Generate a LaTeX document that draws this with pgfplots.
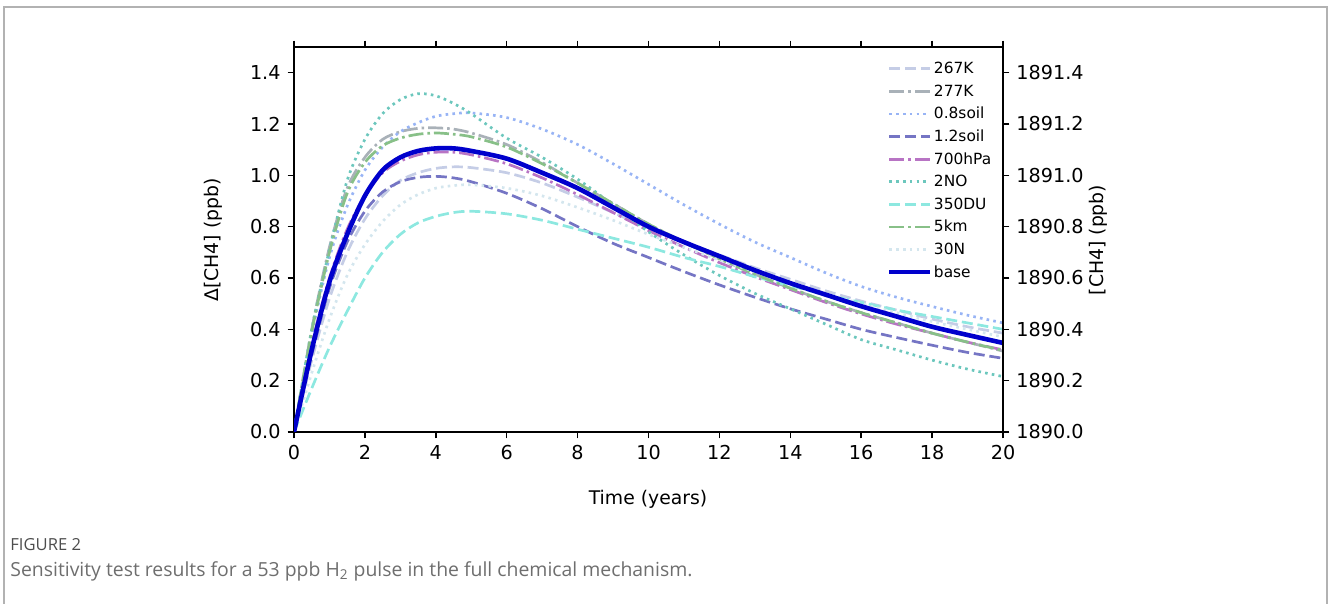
\documentclass[border=0pt]{standalone}
\usepackage{fontspec}
\setmainfont{DejaVu Sans}
\newfontfamily\capfont{Open Sans}
\usepackage{pgfplots}
\pgfplotsset{compat=1.18}

\definecolor{cK267}{HTML}{C5CDE6}
\definecolor{cK277}{HTML}{A9B1B8}
\definecolor{cSoilLo}{HTML}{98B4F5}
\definecolor{cSoilHi}{HTML}{7575C4}
\definecolor{cHpa}{HTML}{B874C4}
\definecolor{cNO}{HTML}{6CC7BD}
\definecolor{cDU}{HTML}{8DE8E0}
\definecolor{cKm}{HTML}{88C088}
\definecolor{cN}{HTML}{D4E6EE}
\definecolor{cBase}{HTML}{0000CC}
\definecolor{capgray}{HTML}{6E6E6E}

\tikzset{
  dashedA/.style={line width=1.35pt, dash pattern=on 5.5pt off 2.4pt},
  dashdotA/.style={line width=1.35pt, dash pattern=on 7.5pt off 2pt on 1.3pt off 2pt},
  dottedA/.style={line width=1.35pt, dash pattern=on 1.3pt off 2.1pt},
}
% 1 px of the 1328x604 reference = 0.5pt here

\begin{document}
\begin{tikzpicture}
\path[use as bounding box] (0pt,0pt) rectangle (664pt,302pt);
\draw[line width=0.8pt, color=black!30] (2pt,-5pt) -- (2pt,298.5pt) -- (663.5pt,298.5pt) -- (663.5pt,-5pt);

\begin{axis}[
    at={(147pt,86pt)}, anchor=south west,
    scale only axis, width=354.5pt, height=192.5pt,
    xmin=0, xmax=20, ymin=0, ymax=1.5,
    xtick={0,2,...,20}, ytick={0,0.2,...,1.4},
    xtick pos=both, ytick pos=left, tick align=outside,
    major tick length=3.2pt,
    every tick/.style={line width=0.75pt, black},
    axis line style={line width=0.75pt},
    xticklabel pos=lower,
    ticklabel style={font=\fontsize{9.6}{11}\selectfont},
    /pgf/number format/assume math mode=true,
    yticklabel style={/pgf/number format/.cd, fixed, fixed zerofill, precision=1},
    xticklabel style={/pgf/number format/.cd, fixed, precision=0},
    legend style={at={(0.836,0.972)}, anchor=north west, draw=none, fill=none,
        font=\fontsize{7.7}{9}\selectfont, row sep=0.7pt, inner sep=0pt,
        nodes={inner sep=0.8pt, text height=7pt, text depth=2pt}},
    legend cell align=left,
    legend image code/.code={\draw[#1] (0cm,0cm) -- (0.56cm,0cm);
        \path (0cm,0cm) -- (0.56cm+4.4pt,0cm);},
    clip=true,
]
\addplot[cK267, dashedA, smooth] coordinates {
 (0,0) (0.5,0.28) (1,0.52) (1.5,0.70) (2,0.83) (2.5,0.92) (3,0.98) (3.5,1.01) (4,1.027) (4.5,1.033)
 (5,1.03) (6,1.01) (7,0.97) (8,0.915) (9,0.855) (10,0.795) (11,0.74) (12,0.69) (13,0.64) (14,0.595)
 (15,0.55) (16,0.51) (17,0.475) (18,0.44) (19,0.41) (20,0.385)};
\addlegendentry{267K}
\addplot[cK277, dashdotA, smooth] coordinates {
 (0,0) (0.5,0.40) (1,0.72) (1.5,0.95) (2,1.07) (2.5,1.14) (3,1.17) (3.5,1.183) (4,1.185) (4.5,1.18)
 (5,1.165) (6,1.12) (7,1.05) (8,0.97) (9,0.89) (10,0.81) (11,0.74) (12,0.675) (13,0.615) (14,0.56)
 (15,0.51) (16,0.465) (17,0.425) (18,0.385) (19,0.35) (20,0.315)};
\addlegendentry{277K}
\addplot[cSoilLo, dottedA, smooth] coordinates {
 (0,0) (0.5,0.38) (1,0.68) (1.5,0.88) (2,1.02) (2.5,1.11) (3,1.17) (3.5,1.205) (4,1.23) (4.5,1.24)
 (5,1.243) (6,1.225) (7,1.18) (8,1.12) (9,1.045) (10,0.965) (11,0.885) (12,0.81) (13,0.74) (14,0.68)
 (15,0.62) (16,0.567) (17,0.525) (18,0.489) (19,0.455) (20,0.425)};
\addlegendentry{0.8soil}
\addplot[cSoilHi, dashedA, smooth] coordinates {
 (0,0) (0.5,0.30) (1,0.56) (1.5,0.74) (2,0.86) (2.5,0.935) (3,0.975) (3.5,0.992) (4,0.996) (4.5,0.99)
 (5,0.975) (6,0.93) (7,0.87) (8,0.80) (9,0.735) (10,0.68) (11,0.625) (12,0.573) (13,0.525) (14,0.48)
 (15,0.44) (16,0.40) (17,0.368) (18,0.338) (19,0.31) (20,0.287)};
\addlegendentry{1.2soil}
\addplot[cHpa, dashdotA, smooth] coordinates {
 (0,0) (0.5,0.34) (1,0.60) (1.5,0.79) (2,0.92) (2.5,1.01) (3,1.055) (3.5,1.08) (4,1.09) (4.5,1.09)
 (5,1.08) (6,1.045) (7,0.99) (8,0.925) (9,0.855) (10,0.785) (11,0.72) (12,0.66) (13,0.605) (14,0.555)
 (15,0.505) (16,0.46) (17,0.42) (18,0.385) (19,0.35) (20,0.32)};
\addlegendentry{700hPa}
\addplot[cNO, dottedA, smooth] coordinates {
 (0,0) (0.5,0.40) (1,0.71) (1.5,0.98) (2,1.14) (2.5,1.24) (3,1.295) (3.5,1.318) (4,1.31) (4.5,1.28)
 (5,1.24) (6,1.145) (7,1.07) (8,0.985) (9,0.885) (10,0.78) (11,0.69) (12,0.61) (13,0.54) (14,0.48)
 (15,0.42) (16,0.36) (17,0.32) (18,0.28) (19,0.245) (20,0.216)};
\addlegendentry{2NO}
\addplot[cDU, dashedA, smooth] coordinates {
 (0,0) (0.5,0.17) (1,0.33) (1.5,0.47) (2,0.60) (2.5,0.70) (3,0.77) (3.5,0.815) (4,0.84) (4.5,0.855)
 (5,0.86) (6,0.85) (7,0.825) (8,0.79) (9,0.755) (10,0.72) (11,0.68) (12,0.645) (13,0.605) (14,0.57)
 (15,0.535) (16,0.505) (17,0.475) (18,0.45) (19,0.425) (20,0.40)};
\addlegendentry{350DU}
\addplot[cKm, dashdotA, smooth] coordinates {
 (0,0) (0.5,0.39) (1,0.70) (1.5,0.93) (2,1.05) (2.5,1.115) (3,1.145) (3.5,1.16) (4,1.165) (4.5,1.16)
 (5,1.15) (6,1.11) (7,1.045) (8,0.97) (9,0.89) (10,0.81) (11,0.74) (12,0.675) (13,0.615) (14,0.56)
 (15,0.51) (16,0.465) (17,0.425) (18,0.385) (19,0.35) (20,0.318)};
\addlegendentry{5km}
\addplot[cN, dottedA, smooth] coordinates {
 (0,0) (0.5,0.23) (1,0.44) (1.5,0.61) (2,0.73) (2.5,0.82) (3,0.885) (3.5,0.925) (4,0.95) (4.5,0.96)
 (5,0.963) (6,0.95) (7,0.92) (8,0.875) (9,0.825) (10,0.77) (11,0.72) (12,0.67) (13,0.625) (14,0.58)
 (15,0.54) (16,0.50) (17,0.465) (18,0.43) (19,0.40) (20,0.37)};
\addlegendentry{30N}
\addplot[cBase, line width=2.3pt, smooth] coordinates {
 (0,0) (0.5,0.32) (1,0.585) (1.5,0.77) (2,0.92) (2.5,1.02) (3,1.07) (3.5,1.095) (4,1.105) (4.5,1.105)
 (5,1.095) (6,1.065) (7,1.01) (8,0.95) (9,0.875) (10,0.80) (11,0.74) (12,0.685) (13,0.63) (14,0.58)
 (15,0.535) (16,0.49) (17,0.45) (18,0.41) (19,0.378) (20,0.347)};
\addlegendentry{base}
\end{axis}

% right axis: [CH4] = 1890 + delta, same scale
\begin{axis}[
    at={(147pt,86pt)}, anchor=south west,
    scale only axis, width=354.5pt, height=192.5pt,
    xmin=0, xmax=20, ymin=0, ymax=1.5,
    axis x line=none, axis y line*=right,
    ytick={0,0.2,...,1.4},
    yticklabels={1890.0,1890.2,1890.4,1890.6,1890.8,1891.0,1891.2,1891.4},
    tick align=outside, major tick length=3.2pt,
    every tick/.style={line width=0.75pt, black},
    axis line style={line width=0.75pt, -},
    ticklabel style={font=\fontsize{9.6}{11}\selectfont},
]
\addplot[draw=none] coordinates {(0,0) (20,1.5)};
\end{axis}

\node[font=\fontsize{9.4}{11}\selectfont] at (324pt,52.5pt) {Time (years)};
\node[font=\fontsize{9.4}{11}\selectfont, rotate=90] at (106.5pt,182pt) {Δ[CH4] (ppb)};
\node[font=\fontsize{9.4}{11}\selectfont, rotate=90] at (549pt,182pt) {[CH4] (ppb)};

\node[anchor=base west, inner sep=0pt, text=capgray!70!black, font=\capfont\fontsize{8.3}{9}\selectfont] at (5pt,26.5pt) {FIGURE 2};
\node[anchor=base west, inner sep=0pt, text=capgray, font=\capfont\fontsize{9.7}{11}\selectfont] at (5pt,13.5pt) {Sensitivity test results for a 53 ppb H\textsubscript{2} pulse in the full chemical mechanism.};
\end{tikzpicture}
\end{document}
